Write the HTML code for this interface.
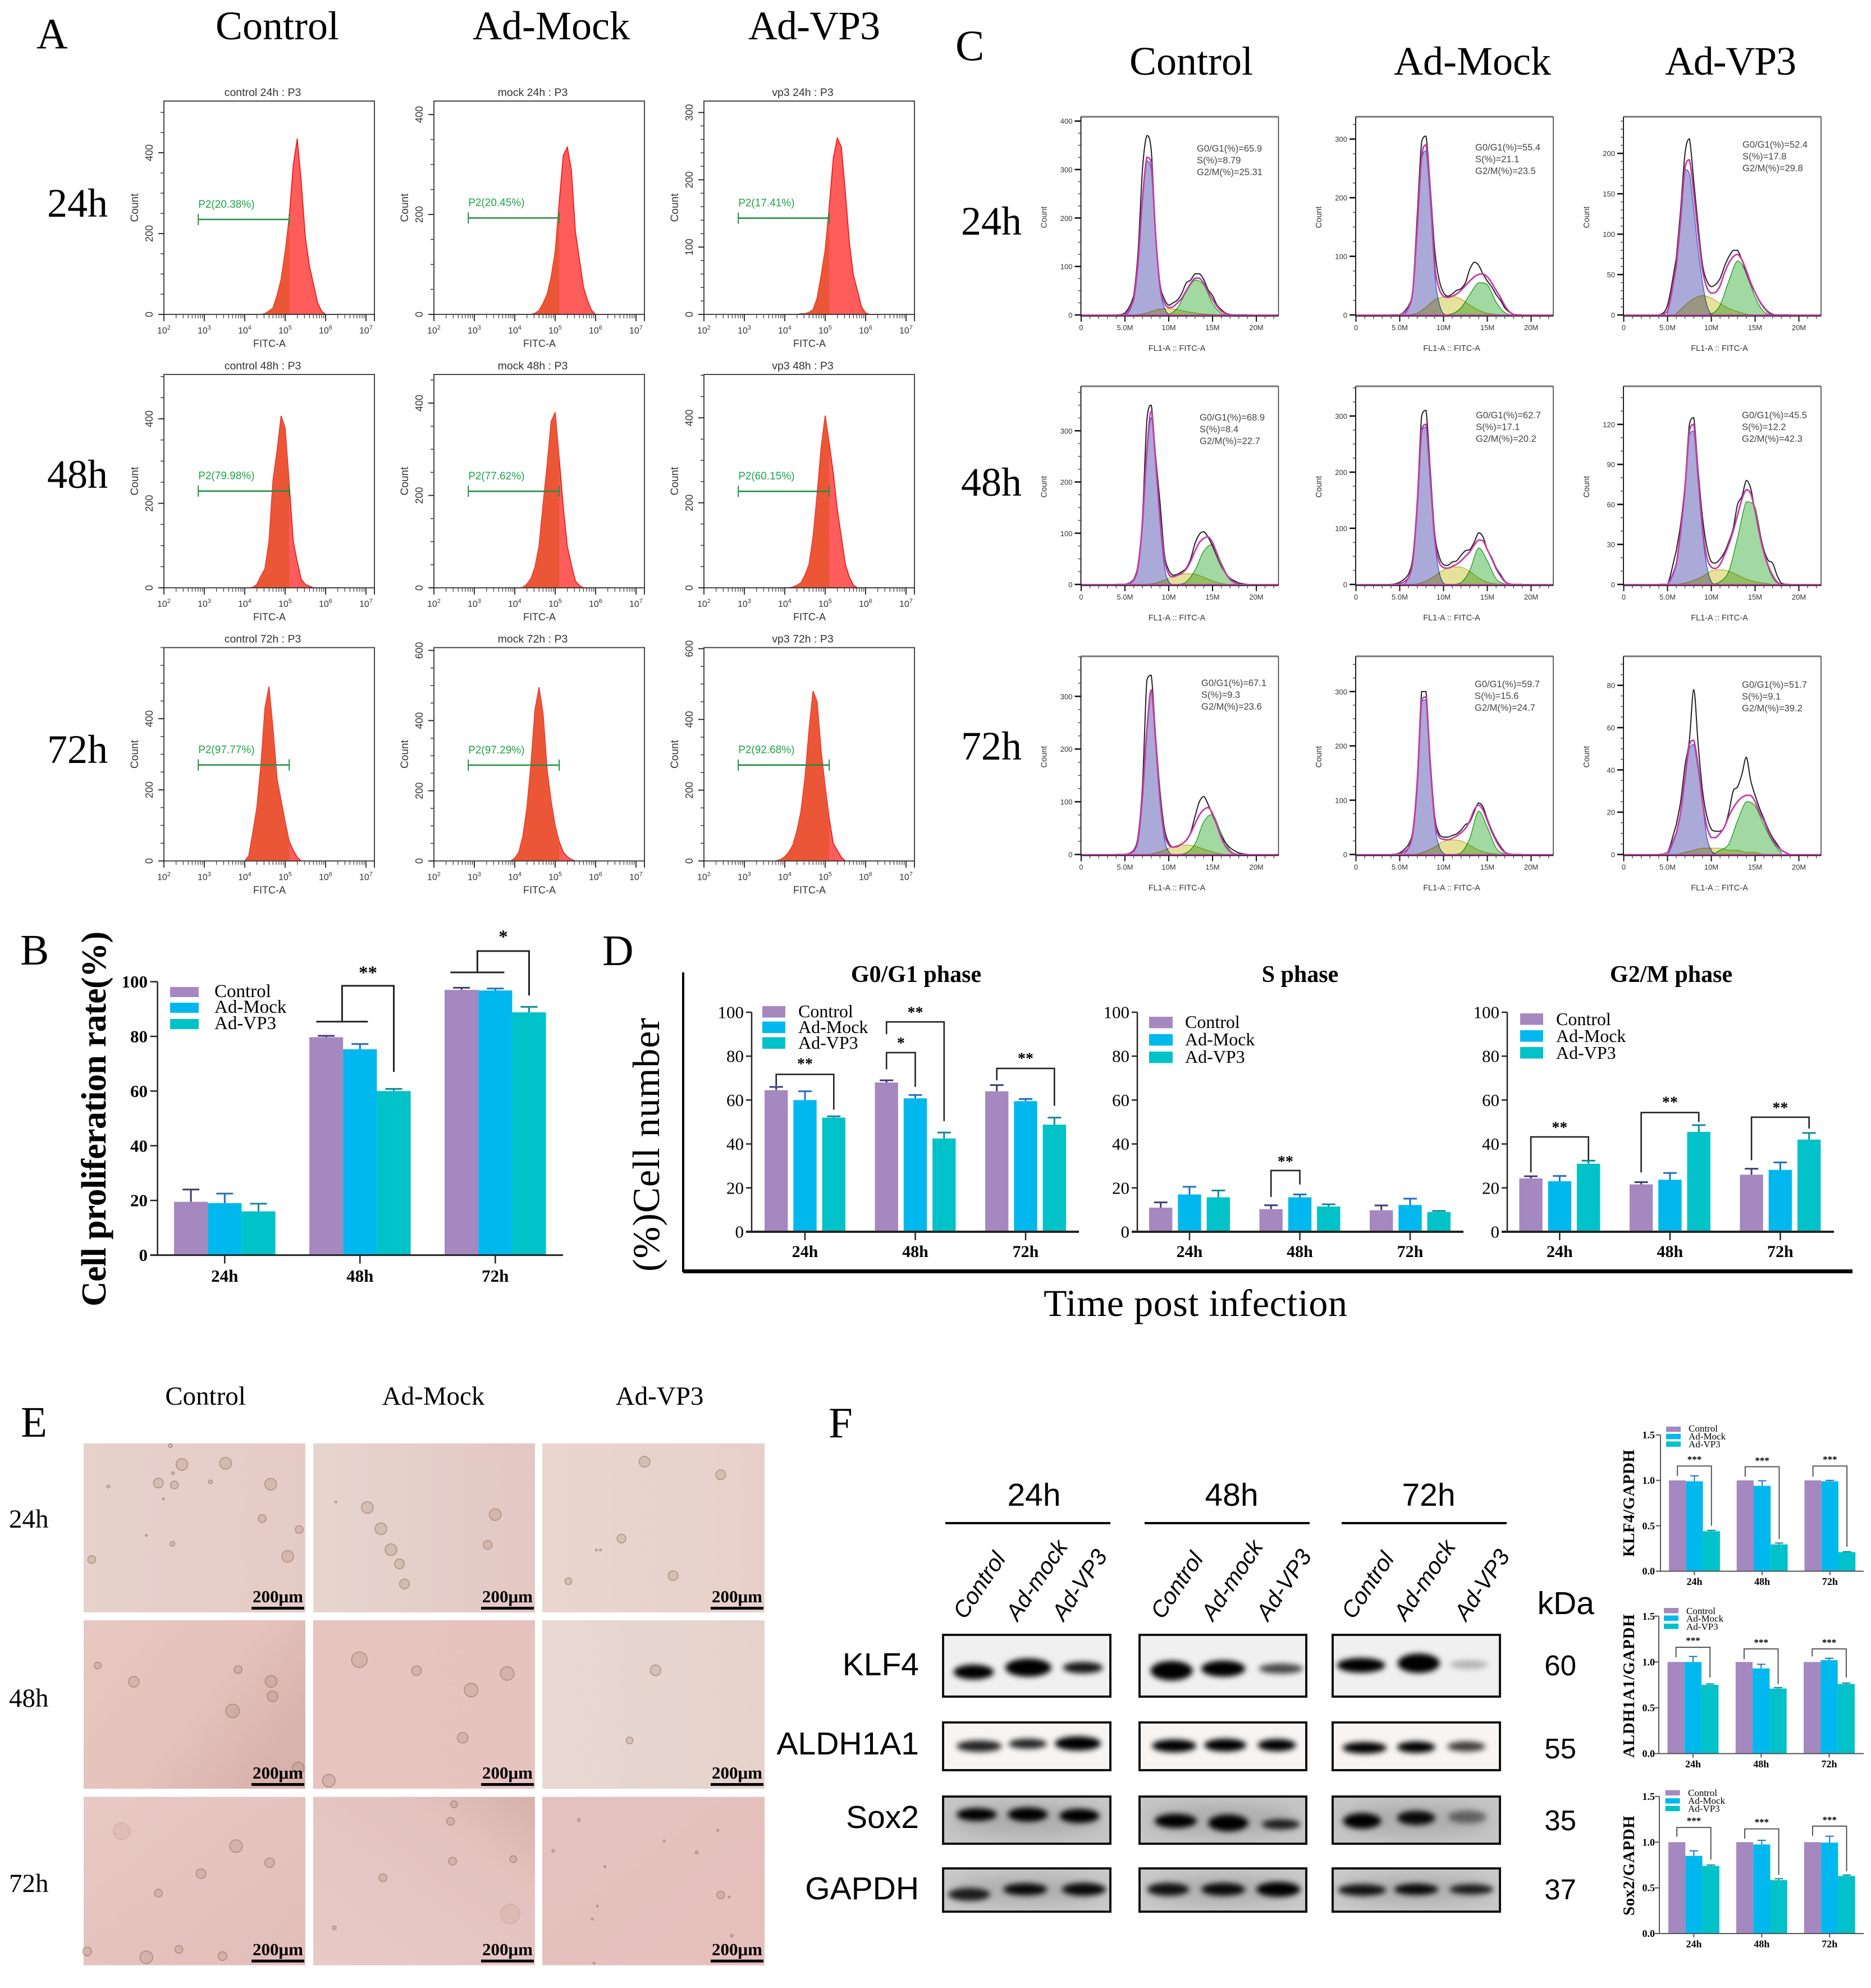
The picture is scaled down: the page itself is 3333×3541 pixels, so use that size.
<!DOCTYPE html>
<html lang="en">
<head>
<meta charset="utf-8">
<title>Multi-panel flow cytometry, proliferation and western blot figure</title>
<style>
html,body{margin:0;padding:0;background:#fff;}
svg{display:block;position:absolute;left:0;top:0;}
.serif{font-family:"Liberation Serif",serif;}
.sans{font-family:"Liberation Sans",sans-serif;}
</style>
</head>
<body>
<svg id="fig" xmlns="http://www.w3.org/2000/svg" width="3333" height="3541" viewBox="0 0 3333 3541">
<defs>
<filter id="blurBand" x="-40%" y="-80%" width="180%" height="260%"><feGaussianBlur stdDeviation="5"/></filter>
<filter id="blurPatch" x="-40%" y="-80%" width="180%" height="260%"><feGaussianBlur stdDeviation="14"/></filter>
<linearGradient id="m11" x1="0" y1="0" x2="1" y2="0"><stop offset="0" stop-color="#e6d1cb"/><stop offset="1" stop-color="#e5cbc6"/></linearGradient>
<linearGradient id="m12" x1="0" y1="0" x2="1" y2="0"><stop offset="0" stop-color="#e6d5ce"/><stop offset="1" stop-color="#e3c7c3"/></linearGradient>
<linearGradient id="m13" x1="0" y1="0" x2="1" y2="0"><stop offset="0" stop-color="#e9d6cf"/><stop offset="1" stop-color="#e8d0ca"/></linearGradient>
<linearGradient id="m21" x1="0" y1="0" x2="1" y2="0.6"><stop offset="0" stop-color="#e8c8c2"/><stop offset="0.6" stop-color="#e5c2bc"/><stop offset="1" stop-color="#d8b2ac"/></linearGradient>
<linearGradient id="m22" x1="0" y1="0" x2="1" y2="0"><stop offset="0" stop-color="#e6c4c0"/><stop offset="1" stop-color="#e7c3bf"/></linearGradient>
<linearGradient id="m23" x1="0" y1="0" x2="1" y2="0"><stop offset="0" stop-color="#e7d9d2"/><stop offset="1" stop-color="#e5d2cb"/></linearGradient>
<linearGradient id="m31" x1="0" y1="0" x2="1" y2="1"><stop offset="0" stop-color="#e8c9c4"/><stop offset="1" stop-color="#e2bdb9"/></linearGradient>
<linearGradient id="m32" x1="0" y1="1" x2="1" y2="0"><stop offset="0" stop-color="#e7cac6"/><stop offset="0.7" stop-color="#e4c3bf"/><stop offset="1" stop-color="#d6b1ac"/></linearGradient>
<linearGradient id="m33" x1="0" y1="0" x2="1" y2="1"><stop offset="0" stop-color="#e5c3c0"/><stop offset="1" stop-color="#e5bfbc"/></linearGradient>
</defs>

<!-- Panel letters -->
<g class="serif" fill="#000" font-size="77">
<text x="65" y="86">A</text>
<text x="36" y="1718">B</text>
<text x="1702" y="107">C</text>
<text x="1073" y="1719">D</text>
<text x="37" y="2559">E</text>
<text x="1476" y="2560">F</text>
</g>

<!-- Panel A headers -->
<g class="serif" fill="#000" font-size="72">
<text x="384" y="70">Control</text>
<text x="842" y="70">Ad-Mock</text>
<text x="1333" y="70" textLength="235">Ad-VP3</text>
<text x="84" y="386">24h</text>
<text x="84" y="869">48h</text>
<text x="84" y="1359">72h</text>
</g>

<!-- Panel C headers -->
<g class="serif" fill="#000" font-size="72">
<text x="2012" y="133">Control</text>
<text x="2483" y="133">Ad-Mock</text>
<text x="2966" y="133" textLength="234">Ad-VP3</text>
<text x="1712" y="418">24h</text>
<text x="1712" y="883">48h</text>
<text x="1712" y="1353">72h</text>
</g>

<!-- Panel B / D titles -->
<text class="serif" font-weight="bold" font-size="62" textLength="668" transform="translate(188,2327) rotate(-90)">Cell proliferation rate(%)</text>
<text class="serif" font-weight="bold" font-size="42" x="1632" y="1749" text-anchor="middle">G0/G1 phase</text>
<text class="serif" font-weight="bold" font-size="42" x="2316" y="1749" text-anchor="middle">S phase</text>
<text class="serif" font-weight="bold" font-size="42" x="2977" y="1749" text-anchor="middle">G2/M phase</text>
<text class="serif" font-size="68" textLength="452" transform="translate(1174,2265) rotate(-90)">(%)Cell number</text>
<text class="serif" font-size="68" x="1859" y="2344" textLength="541">Time post infection</text>
<rect x="1215" y="1732" width="4" height="534" fill="#000"/>
<rect x="1217" y="2261" width="2083" height="7" fill="#000"/>

<!-- Panel E labels -->
<g class="serif" fill="#000" font-size="47">
<text x="366" y="2502" text-anchor="middle">Control</text>
<text x="772" y="2502" text-anchor="middle">Ad-Mock</text>
<text x="1175" y="2502" text-anchor="middle">Ad-VP3</text>
<text x="16" y="2721">24h</text>
<text x="16" y="3040">48h</text>
<text x="16" y="3370">72h</text>
</g>

<!-- Panel F labels -->
<g class="sans" fill="#000">
<text x="1842" y="2682" font-size="57" text-anchor="middle">24h</text>
<text x="2194" y="2682" font-size="57" text-anchor="middle">48h</text>
<text x="2545" y="2682" font-size="57" text-anchor="middle">72h</text>
<rect x="1684" y="2711" width="294" height="4"/>
<rect x="2039" y="2711" width="294" height="4"/>
<rect x="2390" y="2711" width="294" height="4"/>
<g font-size="41" font-style="italic">
<text transform="translate(1719,2886) rotate(-56)">Control</text>
<text transform="translate(1813,2889) rotate(-56)">Ad-mock</text>
<text transform="translate(1895,2889) rotate(-56)">Ad-VP3</text>
<text transform="translate(2071,2886) rotate(-56)">Control</text>
<text transform="translate(2161,2889) rotate(-56)">Ad-mock</text>
<text transform="translate(2259,2889) rotate(-56)">Ad-VP3</text>
<text transform="translate(2411,2886) rotate(-56)">Control</text>
<text transform="translate(2504,2889) rotate(-56)">Ad-mock</text>
<text transform="translate(2612,2889) rotate(-56)">Ad-VP3</text>
</g>
<g font-size="57" text-anchor="end">
<text x="1637" y="2984">KLF4</text>
<text x="1637" y="3125">ALDH1A1</text>
<text x="1637" y="3256">Sox2</text>
<text x="1637" y="3383">GAPDH</text>
<text x="2840" y="2875">kDa</text>
</g>
<g font-size="51" text-anchor="end">
<text x="2808" y="2984">60</text>
<text x="2808" y="3132">55</text>
<text x="2808" y="3260">35</text>
<text x="2808" y="3383">37</text>
</g>
</g>
<g class="serif" font-weight="bold" fill="#000" font-size="29">
<text textLength="191" transform="translate(2911,2773) rotate(-90)">KLF4/GAPDH</text>
<text textLength="256" transform="translate(2911,3131) rotate(-90)">ALDH1A1/GAPDH</text>
<text textLength="178" transform="translate(2911,3412) rotate(-90)">Sox2/GAPDH</text>
</g>
<g id="root"></g>
</svg>

<script>
/* ---------- shared categories ---------- */
const seriesNames = ['Control', 'Ad-Mock', 'Ad-VP3'];
const timeLabels = ['24h', '48h', '72h'];

/* ---------- Panel A: FITC histograms ---------- */
const logBins = [3.8,3.9,4.0,4.1,4.2,4.3,4.4,4.5,4.6,4.7,4.8,4.9,5.0,5.1,5.2,5.3,5.4,5.5,5.6,5.7,5.8,5.9,6.0,6.1,6.2,6.3,6.4];
const hC24 = [0,0,0,0,0,0,0,2,8,16,47,87,155,240,370,435,325,190,120,75,30,8,0,0,0,0,0];
const hM24 = [0,0,0,0,0,0,0,2,8,22,40,75,125,225,318,335,290,166,110,55,28,8,0,0,0,0,0];
const hV24 = [0,0,0,0,0,0,1,1,3,7,24,58,96,160,232,262,249,181,106,58,35,11,2,0,0,0,0];
const hC48 = [0,0,0,0,1,8,28,45,110,256,325,407,378,248,110,61,20,8,4,0,0,0,0,0,0,0,0];
const hM48 = [0,0,0,0,1,8,20,45,90,180,265,360,380,280,175,90,50,15,5,0,0,0,0,0,0,0,0];
const hV48 = [0,0,0,0,2,6,12,30,55,120,220,330,405,340,270,185,120,55,25,6,0,0,0,0,0,0,0];
const hC72 = [0,0,0,15,80,150,270,430,490,370,230,170,110,55,30,10,0,0,0,0,0,0,0,0,0,0,0];
const hM72 = [0,0,8,25,70,150,275,430,495,420,260,170,100,55,25,12,4,0,0,0,0,0,0,0,0,0,0];
const hV72 = [1,4,12,25,45,85,140,235,370,480,450,310,210,120,50,30,10,0,0,0,0,0,0,0,0,0,0];
const histSets = [hC24,hM24,hV24,hC48,hM48,hV48,hC72,hM72,hV72];
const histTitles = ['control 24h : P3','mock 24h : P3','vp3 24h : P3','control 48h : P3','mock 48h : P3','vp3 48h : P3','control 72h : P3','mock 72h : P3','vp3 72h : P3'];
const gateLabels = ['P2(20.38%)','P2(20.45%)','P2(17.41%)','P2(79.98%)','P2(77.62%)','P2(60.15%)','P2(97.77%)','P2(97.29%)','P2(92.68%)'];
const gateCounts = [235,193,143,229,209,227,270,273,271];
const histYMax = [528,427,317,505,462,502,600,608,603];
const histYLabels = [[0,200,400],[0,200,400],[0,100,200,300],[0,200,400],[0,200,400],[0,200,400],[0,200,400],[0,200,400,600],[0,200,400,600]];
const histYMinor = [50,50,20,50,50,50,50,50,50];
const decades = [2,3,4,5,6,7];
const gateFrom = 2.85;
const gateTo = 5.1;

/* ---------- Panel C: cell-cycle fits ---------- */
const rawGrid = [4,5,6,6.5,7,7.5,8,8.5,9,9.5,10,10.5,11,11.5,12,12.5,13,13.5,14,14.5,15,15.5,16,16.5,17,17.5,18,19];
const g1Grid = [5,5.5,6,6.5,7,7.5,8,8.5,9,9.5,10,10.5];
const sGrid = [6,7,8,9,10,11,12,13,14,15,16,17];
const g2Grid = [9,10,11,12,13,14,15,16,17,18];

const rawC24 = [0,4,40,130,300,370,340,170,65,33,20,25,31,45,66,72,85,85,73,52,40,21,11,4,1,0,0,0];
const fitC24 = [0,1,32,110,240,325,315,165,58,25,15,17,25,35,50,65,76,76,65,48,32,18,8,3,0,0,0,0];
const g1C24 = [0,8,35,105,235,318,300,160,55,15,1,0];
const sC24 = [0,2,7,12,13,11,7,4,2,1,0,0];
const g2C24 = [0,1,15,48,72,62,24,3,0,0];

const rawM24 = [0,0,15,45,170,295,305,215,110,60,38,32,36,42,45,55,78,90,85,70,58,48,35,25,12,5,1,0];
const fitM24 = [0,0,12,42,150,270,290,205,85,45,32,30,32,36,42,50,58,65,69,70,65,55,42,30,16,6,1,0];
const g1M24 = [0,1,12,40,150,265,280,190,70,20,2,0];
const sM24 = [0,3,13,26,31,32,27,17,8,3,1,0];
const g2M24 = [0,0,2,12,35,55,52,22,4,0];

const rawV24 = [0,12,70,130,200,218,165,110,62,42,35,38,45,60,72,80,80,68,52,38,28,18,10,4,1,0,0,0];
const fitV24 = [0,5,60,118,182,192,150,100,55,34,27,28,36,52,64,72,75,68,55,40,28,17,9,3,0,0,0,0];
const g1V24 = [5,30,60,115,180,175,130,80,40,12,1,0];
const sV24 = [2,12,20,24,21,14,8,4,1,0,0,0];
const g2V24 = [0,1,12,42,67,52,22,4,0,0];

const rawC48 = [0,0,10,40,130,320,350,250,160,60,28,18,20,25,32,50,80,98,103,92,75,55,35,22,12,7,3,0];
const fitC48 = [0,0,8,35,120,260,338,240,130,50,20,15,18,22,30,45,65,82,90,93,82,60,38,22,10,4,0,0];
const g1C48 = [0,1,8,33,115,250,326,235,120,35,5,0];
const sC48 = [0,0,1,5,12,18,21,20,14,7,2,0];
const g2C48 = [0,0,0,5,28,65,78,42,10,1];

const rawM48 = [0,4,18,50,150,300,310,200,90,50,35,34,40,42,52,60,62,75,92,85,62,48,30,18,6,1,0,0];
const fitM48 = [0,1,12,42,140,275,285,185,80,40,30,29,32,36,42,50,58,70,79,78,62,46,28,15,5,1,0,0];
const g1M48 = [0,1,12,42,140,272,280,180,75,22,2,0];
const sM48 = [0,1,6,15,26,31,31,23,12,4,1,0];
const g2M48 = [0,0,0,3,25,65,42,10,1,0];

const rawV48 = [0,0,25,45,75,120,125,85,50,28,17,16,19,24,32,42,60,66,78,72,55,40,26,18,16,7,1,0];
const fitV48 = [0,0,15,40,72,115,120,80,42,20,13,12,15,22,30,40,52,64,71,68,55,38,24,14,7,2,0,0];
const g1V48 = [0,5,15,40,72,112,115,76,38,13,2,0];
const sV48 = [0,1,3,6,10,11,10,7,4,2,1,0];
const g2V48 = [0,0,2,10,35,62,58,24,5,0];

const rawC72 = [0,0,8,35,130,330,340,225,120,50,22,14,15,20,28,42,72,100,110,95,75,55,35,22,13,7,3,0];
const fitC72 = [0,0,6,28,110,235,312,215,105,40,18,14,16,20,27,40,58,75,85,89,78,55,32,15,6,1,0,0];
const g1C72 = [0,1,6,27,105,230,308,210,100,30,5,0];
const sC72 = [0,0,1,5,12,17,18,16,10,5,1,0];
const g2C72 = [0,0,0,3,20,62,76,40,8,0];

const rawM72 = [0,3,18,45,140,300,300,170,70,38,32,32,35,38,45,55,60,78,95,88,65,45,28,15,5,1,0,0];
const fitM72 = [0,1,12,40,130,285,290,160,62,32,28,27,30,34,40,48,62,82,91,82,62,42,25,12,4,1,0,0];
const g1M72 = [0,1,12,38,128,282,285,155,55,15,2,0];
const sM72 = [0,1,6,14,24,27,25,17,8,3,1,0];
const g2M72 = [0,0,0,3,30,80,50,12,1,0];

const rawV72 = [0,1,14,25,42,54,78,52,30,18,12,11,11,13,20,30,32,38,46,35,28,22,17,12,8,5,2,0];
const fitV72 = [0,1,10,20,36,52,54,42,25,13,8,8,10,13,18,22,25,27,28,28,25,20,16,11,7,4,2,0];
const g1V72 = [0,4,10,20,36,50,52,40,24,8,2,0];
const sV72 = [0,1,2,3,3,3,2,2,1,1,0,0];
const g2V72 = [0,0,2,5,16,25,23,14,6,1];

const cycleRaw = [rawC24,rawM24,rawV24,rawC48,rawM48,rawV48,rawC72,rawM72,rawV72];
const cycleFit = [fitC24,fitM24,fitV24,fitC48,fitM48,fitV48,fitC72,fitM72,fitV72];
const cycleG1 = [g1C24,g1M24,g1V24,g1C48,g1M48,g1V48,g1C72,g1M72,g1V72];
const cycleS = [sC24,sM24,sV24,sC48,sM48,sV48,sC72,sM72,sV72];
const cycleG2 = [g2C24,g2M24,g2V24,g2C48,g2M48,g2V48,g2C72,g2M72,g2V72];
const cycleYMax = [410,339,246,388,354,149,377,366,94];
const cycleYLabels = [[0,100,200,300,400],[0,100,200,300],[0,50,100,150,200],[0,100,200,300],[0,100,200,300],[0,30,60,90,120],[0,100,200,300],[0,100,200,300],[0,20,40,60,80]];
const cycleYMinor = [25,25,10,25,25,10,25,25,5];
const cycleXLabels = ['0','5.0M','10M','15M','20M'];
const cycleXValues = [0,5,10,15,20];
const cycleStats = [
  ['G0/G1(%)=65.9','S(%)=8.79','G2/M(%)=25.31'],['G0/G1(%)=55.4','S(%)=21.1','G2/M(%)=23.5'],['G0/G1(%)=52.4','S(%)=17.8','G2/M(%)=29.8'],
  ['G0/G1(%)=68.9','S(%)=8.4','G2/M(%)=22.7'],['G0/G1(%)=62.7','S(%)=17.1','G2/M(%)=20.2'],['G0/G1(%)=45.5','S(%)=12.2','G2/M(%)=42.3'],
  ['G0/G1(%)=67.1','S(%)=9.3','G2/M(%)=23.6'],['G0/G1(%)=59.7','S(%)=15.6','G2/M(%)=24.7'],['G0/G1(%)=51.7','S(%)=9.1','G2/M(%)=39.2']];

/* ---------- Panel B values ---------- */
const bControl = [19.5,79.7,97];
const bMock = [19,75.3,96.8];
const bVP3 = [16,60,88.8];
const bControlTop = [24,80.2,97.8];
const bMockTop = [22.5,77.2,97.5];
const bVP3Top = [18.8,60.8,90.8];
const pctTicks = [0,20,40,60,80,100];

/* ---------- Panel D values ---------- */
const g0Control = [64.5,68,64];
const g0Mock = [60,60.8,59.5];
const g0VP3 = [52,42.5,48.8];
const g0ControlTop = [66,69,66.8];
const g0MockTop = [64,62.3,60.5];
const g0VP3Top = [52.6,45.2,52];
const sControl = [11,10.3,9.8];
const sMock = [17,15.7,12.2];
const sVP3 = [15.7,11.5,9];
const sControlTop = [13.4,12.1,12];
const sMockTop = [20.5,17,15.1];
const sVP3Top = [18.8,12.5,9.5];
const g2Control = [24.3,21.6,26];
const g2Mock = [23,23.7,28.2];
const g2VP3 = [31,45.5,42];
const g2ControlTop = [25.3,22.6,28.7];
const g2MockTop = [25.4,26.8,31.6];
const g2VP3Top = [32.4,48.6,45];

/* ---------- Panel F values ---------- */
const klfControl = [1,1,1];
const klfMock = [0.99,0.94,0.99];
const klfVP3 = [0.44,0.295,0.21];
const klfControlTop = [1,1,1];
const klfMockTop = [1.05,0.995,1.0];
const klfVP3Top = [0.45,0.31,0.215];
const aldhControl = [1,1,1];
const aldhMock = [1,0.93,1.02];
const aldhVP3 = [0.75,0.71,0.76];
const aldhControlTop = [1,1,1];
const aldhMockTop = [1.06,0.975,1.04];
const aldhVP3Top = [0.76,0.72,0.77];
const soxControl = [1,1,1];
const soxMock = [0.85,0.975,0.995];
const soxVP3 = [0.74,0.585,0.63];
const soxControlTop = [1,1,1];
const soxMockTop = [0.905,1.02,1.065];
const soxVP3Top = [0.75,0.6,0.64];
const ratioTicks = [0,0.5,1,1.5];
const ratioLabels = ['0.0','0.5','1.0','1.5'];

/* ---------- helpers ---------- */
const NS = 'http://www.w3.org/2000/svg';
const root = document.getElementById('root');
const barFill = ['#a688c0','#00b8ee','#00c2c8'];
const errFill = ['#3c3c6e','#1f6fc0','#0e8a94'];

function mk(tag, attrs, parent) {
  const el = document.createElementNS(NS, tag);
  for (const k in attrs) el.setAttribute(k, attrs[k]);
  (parent || root).appendChild(el);
  return el;
}
function grp(parent, name) {
  const g = mk('g', {}, parent);
  
  
  return g;
}
function label(parent, name, s, x, y, size, extra) {
  const el = mk('text', Object.assign({x: x, y: y, 'font-size': size, 'font-family': '"Liberation Sans",sans-serif', fill: '#222'}, extra || {}), parent);
  el.textContent = s;
  
  
  return el;
}
function line(parent, x1, y1, x2, y2, stroke, w) {
  return mk('line', {x1: x1, y1: y1, x2: x2, y2: y2, stroke: stroke, 'stroke-width': w}, parent);
}
function smooth(pts) {
  let d = 'M' + pts[0][0].toFixed(1) + ' ' + pts[0][1].toFixed(1);
  for (let i = 0; i < pts.length - 1; i++) {
    const p0 = pts[Math.max(i - 1, 0)], p1 = pts[i], p2 = pts[i + 1], p3 = pts[Math.min(i + 2, pts.length - 1)];
    const lo = Math.min(p1[1], p2[1]), hi = Math.max(p1[1], p2[1]);
    const c1y = Math.min(hi, Math.max(lo, p1[1] + (p2[1] - p0[1]) / 6));
    const c2y = Math.min(hi, Math.max(lo, p2[1] - (p3[1] - p1[1]) / 6));
    const c1x = p1[0] + (p2[0] - p1[0]) / 3, c2x = p2[0] - (p2[0] - p1[0]) / 3;
    d += 'C' + c1x.toFixed(1) + ' ' + c1y.toFixed(1) + ' ' + c2x.toFixed(1) + ' ' + c2y.toFixed(1) + ' ' + p2[0].toFixed(1) + ' ' + p2[1].toFixed(1);
  }
  return d;
}

/* ---------- Panel A ---------- */
const aCols = [292, 773, 1254];
const aWidth = 375;
const aBase = [560, 1047, 1533.5];
const aHeight = 380;
for (let i = 0; i < 9; i++) {
  const L = aCols[i % 3], B = aBase[Math.floor(i / 3)], T = B - aHeight;
  const X = v => L + (v - 2) * 72;
  const Y = c => B - c * aHeight / histYMax[i];
  const g = grp(root, 'histogram-' + histTitles[i].replace(/[ :]+/g, '-').toLowerCase());
  const pts = logBins.map((b, k) => X(b).toFixed(1) + ',' + Y(histSets[i][k]).toFixed(1));
  const poly = X(logBins[0]) + ',' + B + ' ' + pts.join(' ') + ' ' + X(logBins[logBins.length - 1]) + ',' + B;
  const fill = mk('polygon', {points: poly, fill: '#ff5c5c', stroke: '#f01010', 'stroke-width': 1.6}, g);
  
  
  const clipId = 'gateClip' + i;
  const cp = mk('clipPath', {id: clipId}, g);
  mk('rect', {x: X(gateFrom), y: T, width: X(gateTo) - X(gateFrom), height: aHeight}, cp);
  const gated = mk('polygon', {points: poly, fill: '#ea5636', 'clip-path': 'url(#' + clipId + ')'}, g);
  
  
  const box = mk('rect', {x: L, y: T, width: aWidth, height: aHeight, fill: 'none', stroke: '#333', 'stroke-width': 1.8}, g);
  
  
  const yAxis = grp(g, 'y-axis');
  for (let c = 0; c <= histYMax[i]; c += histYMinor[i]) line(yAxis, L - 6, Y(c), L, Y(c), '#444', 1.6);
  histYLabels[i].forEach(v => {
    line(yAxis, L - 10, Y(v), L, Y(v), '#222', 1.8);
    const yy = Y(v);
    label(yAxis, 'y-tick-label', String(v), 0, 0, 18, {transform: 'translate(' + (L - 20) + ',' + yy + ') rotate(-90)', 'text-anchor': 'middle', fill: '#333'});
  });
  const xAxis = grp(g, 'x-axis');
  decades.forEach(d => {
    line(xAxis, X(d), B, X(d), B + 12, '#222', 1.8);
    const lab = label(xAxis, 'x-tick-label', '10', X(d) - 12, B + 34, 16, {fill: '#333'});
    const sup = mk('tspan', {'font-size': 11, dy: -7}, lab);
    sup.textContent = String(d);
    if (d < 7) [2,3,4,5,6,7,8,9].forEach(m => { const xx = X(d + Math.log10(m)); line(xAxis, xx, B, xx, B + 7, '#444', 1.3); });
  });
  line(xAxis, L + aWidth, B, L + aWidth, B + 12, '#222', 1.8);
  label(g, 'x-axis-title', 'FITC-A', L + 188, B + 58, 18, {'text-anchor': 'middle', fill: '#333'});
  label(g, 'y-axis-title', 'Count', 0, 0, 19, {transform: 'translate(' + (L - 46) + ',' + (B - 190) + ') rotate(-90)', 'text-anchor': 'middle', fill: '#333'});
  label(g, 'plot-title', histTitles[i], L + 176, T - 9, 19.5, {'text-anchor': 'middle', fill: '#333'});
  const gy = Y(gateCounts[i]);
  const gate = grp(g, 'p2-gate');
  line(gate, X(gateFrom), gy, X(gateTo), gy, '#1e9040', 2.6);
  line(gate, X(gateFrom), gy - 10, X(gateFrom), gy + 10, '#1e9040', 2);
  line(gate, X(gateTo), gy - 10, X(gateTo), gy + 10, '#1e9040', 2);
  label(g, 'gate-label', gateLabels[i], X(gateFrom), gy - 21, 19, {fill: '#1fa24a'});
}

/* ---------- Panel C ---------- */
const cCols = [1925.5, 2415, 2892];
const cWidth = 352;
const cBase = [561, 1041, 1522];
const cHeight = 354;
const statPos = [[2132,270],[2628,268],[3104,263],[2137,749],[2629,745],[3103,745],[2140,1222],[2627,1224],[3103,1225]];
for (let i = 0; i < 9; i++) {
  const L = cCols[i % 3], B = cBase[Math.floor(i / 3)], T = B - cHeight + 1;
  const X = m => L + 0.5 + m * 15.6;
  const Y = c => B - c * cHeight / cycleYMax[i];
  const g = grp(root, 'cell-cycle-plot-' + i);
  const area = (grid, vals) => {
    const pts = grid.map((m, k) => [X(m), Y(vals[k])]);
    return smooth(pts) + 'L' + X(grid[grid.length - 1]) + ' ' + B + 'L' + X(grid[0]) + ' ' + B + 'Z';
  };
  const g1 = mk('path', {d: area(g1Grid, cycleG1[i]), fill: '#aaaad8', stroke: '#3a5fc0', 'stroke-width': 1.4}, g);
  
  
  const sArea = mk('path', {d: area(sGrid, cycleS[i]), fill: '#e6e29c', stroke: '#b7b73a', 'stroke-width': 1.4, style: 'mix-blend-mode:multiply'}, g);
  
  
  const g2 = mk('path', {d: area(g2Grid, cycleG2[i]), fill: '#a2d8a2', stroke: '#20a020', 'stroke-width': 1.4, style: 'mix-blend-mode:multiply'}, g);
  
  
  const raw = mk('path', {d: smooth(rawGrid.map((m, k) => [X(m), Y(cycleRaw[i][k])])), fill: 'none', stroke: '#222', 'stroke-width': 2}, g);
  
  
  const fit = mk('path', {d: smooth(rawGrid.map((m, k) => [X(m), Y(cycleFit[i][k])])), fill: 'none', stroke: '#c83ca8', 'stroke-width': 2.8}, g);
  
  
  line(g, X(0), B, L + cWidth, B, '#c83ca8', 2);
  line(g, L, T, L + cWidth, T, '#777', 3);
  line(g, L + cWidth, T, L + cWidth, B + 2, '#333', 1.5);
  line(g, L, T, L, B + 2, '#222', 2);
  line(g, L, B + 2, L + cWidth, B + 2, '#222', 1.8);
  const yAxis = grp(g, 'y-axis');
  for (let c = 0; c <= cycleYMax[i]; c += cycleYMinor[i]) line(yAxis, L - 5, Y(c), L, Y(c), '#444', 1.4);
  cycleYLabels[i].forEach(v => {
    line(yAxis, L - 11, Y(v), L, Y(v), '#111', 2.6);
    label(yAxis, 'y-tick-label', String(v), L - 15, Y(v) + 5, 13, {'text-anchor': 'end', fill: '#333'});
  });
  const xAxis = grp(g, 'x-axis');
  for (let m = 0; m <= 22; m++) line(xAxis, X(m), B + 2, X(m), B + 7, '#444', 1.3);
  cycleXValues.forEach((v, k) => {
    line(xAxis, X(v), B + 2, X(v), B + 12, '#111', 2);
    label(xAxis, 'x-tick-label', cycleXLabels[k], X(v), B + 27, 13, {'text-anchor': 'middle', fill: '#333'});
  });
  label(g, 'x-axis-title', 'FL1-A :: FITC-A', L + 171, B + 64, 14.5, {'text-anchor': 'middle', fill: '#333'});
  label(g, 'y-axis-title', 'Count', 0, 0, 14.5, {transform: 'translate(' + (L - 61) + ',' + (B - 174) + ') rotate(-90)', 'text-anchor': 'middle', fill: '#333'});
  cycleStats[i].forEach((s, k) => label(g, 'phase-percent-label', s, statPos[i][0], statPos[i][1] + k * 21, 16.5, {fill: '#444'}));
}

/* ---------- bar charts (B, D, F) ---------- */
function barChart(c) {
  const g = grp(root, c.name);
  const Y = v => c.base - v * c.unit;
  const X = (gi, b) => c.x0 + gi * c.gStep + b * c.barStep + c.barW / 2;
  const values = [c.v0, c.v1, c.v2];
  const tops = [c.t0, c.t1, c.t2];
  timeLabels.forEach((t, gi) => {
    values.forEach((vals, b) => {
      const bar = mk('rect', {x: X(gi, b) - c.barW / 2, y: Y(vals[gi]), width: c.barW, height: c.base - Y(vals[gi]), fill: barFill[b]}, g);
      
      
    });
  });
  timeLabels.forEach((t, gi) => {
    tops.forEach((vals, b) => {
      if (vals[gi] <= values[b][gi]) return;
      const e = grp(g, 'error-bar');
      line(e, X(gi, b), Y(values[b][gi]), X(gi, b), Y(vals[gi]), errFill[b], c.errW);
      line(e, X(gi, b) - c.cap, Y(vals[gi]), X(gi, b) + c.cap, Y(vals[gi]), errFill[b], c.errW);
    });
  });
  const yAxis = grp(g, 'y-axis');
  const tv = c.ticks;
  line(yAxis, c.ax, Y(tv[0]) + c.axW / 2, c.ax, Y(tv[tv.length - 1]), c.axC, c.axW);
  tv.forEach((v, k) => {
    line(yAxis, c.ax - c.tickLen, Y(v), c.ax, Y(v), c.axC, c.axW);
    const el = label(yAxis, 'y-tick-label', c.tickText ? c.tickText[k] : String(v), c.tickRight, Y(v) + c.yFont * 0.34, c.yFont, {'text-anchor': 'end', 'font-family': '"Liberation Serif",serif', fill: '#000'});
    if (c.yBold) el.setAttribute('font-weight', 'bold');
  });
  const xAxis = grp(g, 'x-axis');
  line(xAxis, c.ax - c.tickLen, c.base, c.xEnd, c.base, c.axC, c.xW);
  timeLabels.forEach((t, gi) => {
    const cx = X(gi, 1);
    line(xAxis, cx, c.base, cx, c.base + c.tickDown, c.axC, c.axW);
    label(xAxis, 'x-tick-label', t, cx, c.xBase, c.xFont, {'text-anchor': 'middle', 'font-family': '"Liberation Serif",serif', 'font-weight': 'bold', fill: '#000'});
  });
  const leg = grp(g, 'legend');
  seriesNames.forEach((s, k) => {
    const sw = mk('rect', {x: c.leg.sx, y: c.leg.sy[k], width: c.leg.sw, height: c.leg.sh, fill: barFill[k]}, leg);
    
    
    label(leg, 'legend-entry', s, c.leg.tx, c.leg.tb[k], c.leg.font, {'font-family': '"Liberation Serif",serif', fill: '#000'});
  });
  (c.brackets || []).forEach(b => {
    const br = grp(g, 'significance-bracket');
    const xl = X(b.g, b.l), xr = X(b.g, b.r);
    mk('path', {d: 'M' + xl + ' ' + Y(b.dl) + 'V' + Y(b.top) + 'H' + xr + 'V' + Y(b.dr), fill: 'none', stroke: c.brC, 'stroke-width': c.brW}, br);
    if (b.hw) line(br, xl - b.hw, Y(b.dl), xl + b.hw, Y(b.dl), c.brC, c.brW);
    label(br, 'significance-stars', b.text, (xl + xr) / 2, Y(b.star) + c.starFont * 0.47, c.starFont, {'text-anchor': 'middle', 'font-family': '"Liberation Serif",serif', 'font-weight': 'bold', fill: '#000'});
  });
}
const dBase = {base: 2194, unit: 3.91, gStep: 196.5, barStep: 51.3, barW: 41.4, cap: 12, errW: 3, axC: '#222', axW: 2.5, xW: 4, tickLen: 10, tickDown: 15, yFont: 31, yBold: false, xBase: 2239, xFont: 30, ticks: pctTicks, brC: '#222', brW: 2.6, starFont: 28};
const fBase = {barStep: 30.3, barW: 30.3, cap: 7.5, errW: 2, axC: '#555', axW: 2, xW: 2, tickLen: 8, tickDown: 7, yFont: 18, yBold: true, xFont: 18, ticks: ratioTicks, tickText: ratioLabels, brC: '#444', brW: 1.8, starFont: 17, tickRight: 2948};

barChart({name: 'chart-cell-proliferation', base: 2235.6, unit: 4.87, x0: 310, gStep: 241, barStep: 60.2, barW: 60.2, cap: 15, errW: 3, ax: 280.6, xEnd: 1003, axC: '#222', axW: 2.5, xW: 3, tickLen: 13, tickDown: 15, tickRight: 263, yFont: 31, yBold: true, xBase: 2283, xFont: 31, ticks: pctTicks,
  v0: bControl, v1: bMock, v2: bVP3, t0: bControlTop, t1: bMockTop, t2: bVP3Top, brC: '#222', brW: 3, starFont: 33,
  leg: {sx: 303, sw: 51, sh: 18, sy: [1758, 1786, 1815], tx: 382, tb: [1776, 1804, 1833], font: 33},
  brackets: [{g: 1, l: 0.47, r: 2, top: 98.5, dl: 85.4, dr: 67, hw: 46, text: '**', star: 104.3},
             {g: 2, l: 0.47, r: 2, top: 111.2, dl: 103.4, dr: 95, hw: 48, text: '*', star: 117.5}]});

barChart(Object.assign({}, dBase, {name: 'chart-g0g1-phase', x0: 1362, ax: 1339, xEnd: 1922, tickRight: 1325,
  v0: g0Control, v1: g0Mock, v2: g0VP3, t0: g0ControlTop, t1: g0MockTop, t2: g0VP3Top,
  leg: {sx: 1358, sw: 41, sh: 20.5, sy: [1792, 1819.5, 1847.5], tx: 1422, tb: [1812, 1840, 1868], font: 32},
  brackets: [{g: 0, l: 0, r: 2, top: 71.7, dl: 66.5, dr: 55.6, text: '**', star: 77.5},
             {g: 1, l: 0, r: 1, top: 81.6, dl: 74, dr: 66, text: '*', star: 87},
             {g: 1, l: 0, r: 2, top: 95.6, dl: 90, dr: 50.4, text: '**', star: 101},
             {g: 2, l: 0, r: 2, top: 74.4, dl: 69, dr: 57.4, text: '**', star: 80}]}));

barChart(Object.assign({}, dBase, {name: 'chart-s-phase', x0: 2047, ax: 2026, xEnd: 2607, tickRight: 2012,
  v0: sControl, v1: sMock, v2: sVP3, t0: sControlTop, t1: sMockTop, t2: sVP3Top,
  leg: {sx: 2047, sw: 42, sh: 20.5, sy: [1811, 1842, 1873], tx: 2111, tb: [1831, 1862, 1893], font: 32},
  brackets: [{g: 1, l: 0, r: 1, top: 27.9, dl: 15.9, dr: 21.5, text: '**', star: 33}]}));

barChart(Object.assign({}, dBase, {name: 'chart-g2m-phase', x0: 2706.4, ax: 2685, xEnd: 3267, tickRight: 2671,
  v0: g2Control, v1: g2Mock, v2: g2VP3, t0: g2ControlTop, t1: g2MockTop, t2: g2VP3Top,
  leg: {sx: 2708, sw: 41, sh: 20.5, sy: [1805, 1835, 1865], tx: 2772, tb: [1826, 1856, 1886], font: 32},
  brackets: [{g: 0, l: 0, r: 2, top: 43.2, dl: 27, dr: 32.6, text: '**', star: 48.5},
             {g: 1, l: 0, r: 2, top: 54.3, dl: 27, dr: 50, text: '**', star: 60},
             {g: 2, l: 0, r: 2, top: 52.2, dl: 32.6, dr: 47, text: '**', star: 57.5}]}));

barChart(Object.assign({}, fBase, {name: 'chart-klf4', base: 2798.6, unit: 161.8, x0: 2973, gStep: 120.7, ax: 2958, xEnd: 3320, xBase: 2823,
  v0: klfControl, v1: klfMock, v2: klfVP3, t0: klfControlTop, t1: klfMockTop, t2: klfVP3Top,
  leg: {sx: 2968, sw: 26, sh: 9.5, sy: [2541, 2554, 2567.5], tx: 3008, tb: [2550, 2564, 2578], font: 17},
  brackets: [{g: 0, l: 0, r: 2, top: 1.158, dl: 1.05, dr: 0.5, text: '***', star: 1.245},
             {g: 1, l: 0, r: 2, top: 1.15, dl: 1.04, dr: 0.355, text: '***', star: 1.235},
             {g: 2, l: 0, r: 2, top: 1.158, dl: 1.04, dr: 0.27, text: '***', star: 1.245}]}));

barChart(Object.assign({}, fBase, {name: 'chart-aldh1a1', base: 3123.5, unit: 163.2, x0: 2970.5, gStep: 121.3, ax: 2955, xEnd: 3320, xBase: 3148,
  v0: aldhControl, v1: aldhMock, v2: aldhVP3, t0: aldhControlTop, t1: aldhMockTop, t2: aldhVP3Top,
  leg: {sx: 2964, sw: 26, sh: 9.5, sy: [2864, 2877.5, 2892], tx: 3004, tb: [2875, 2888.5, 2903], font: 17},
  brackets: [{g: 0, l: 0, r: 2, top: 1.16, dl: 1.05, dr: 0.83, text: '***', star: 1.25},
             {g: 1, l: 0, r: 2, top: 1.143, dl: 1.03, dr: 0.76, text: '***', star: 1.23},
             {g: 2, l: 0, r: 2, top: 1.143, dl: 1.06, dr: 0.83, text: '***', star: 1.23}]}));

barChart(Object.assign({}, fBase, {name: 'chart-sox2', base: 3444, unit: 162.8, x0: 2972, gStep: 120.9, ax: 2956, xEnd: 3320, xBase: 3468.5,
  v0: soxControl, v1: soxMock, v2: soxVP3, t0: soxControlTop, t1: soxMockTop, t2: soxVP3Top,
  leg: {sx: 2966.6, sw: 26, sh: 9.5, sy: [3188.6, 3203, 3216.6], tx: 3007, tb: [3199, 3213, 3227], font: 17},
  brackets: [{g: 0, l: 0, r: 2, top: 1.16, dl: 1.06, dr: 0.81, text: '***', star: 1.25},
             {g: 1, l: 0, r: 2, top: 1.145, dl: 1.04, dr: 0.64, text: '***', star: 1.235},
             {g: 2, l: 0, r: 2, top: 1.175, dl: 1.07, dr: 0.68, text: '***', star: 1.26}]}));

/* ---------- Panel E: micrographs ---------- */
const microX = [[149,395],[558,395],[966,396]];
const microY = [[2571,301],[2886,300],[3200.5,300]];
const microCells = [
 [340,192,4],[363,240,12],[450,237,12],[316,287,10],[348,292,8],[345,262,3],[420,284,4],[540,290,12],[216,296,3],[326,327,2],[523,377,8],[597,405,8],[344,441,5],[292,420,2],[574,473,12],[183,481,8],
 [733,349,12],[988,367,12],[760,403,12],[780,456,12],[797,492,10],[807,543,10],[973,444,9],[670,335,2],
 [1286,233,11],[1438,266,10],[1240,428,9],[1134,536,7],[1343,522,10],[1190,457,2],[1198,457,2],
 [195,750,7],[267,791,11],[475,760,8],[541,790,12],[544,828,11],[464,865,14],[595,1010,12],
 [717,735,16],[831,763,10],[940,812,14],[1012,770,14],[923,933,11],[656,1042,13],
 [1308,762,11],[1256,940,7],
 [243,1170,17],[471,1208,13],[401,1278,10],[316,1327,8],[538,1250,10],[174,1475,9],[292,1490,13],[357,1470,8],[444,1487,9],
 [906,1102,7],[899,1145,8],[903,1246,8],[1024,1241,7],[764,1288,8],[667,1415,4],[1018,1380,20],
 [1438,1332,8],[1104,1220,3],[1155,1142,3],[1390,1224,3],[1432,1168,2],[1207,1260,2],[1192,1360,2],[1455,1337,2],[1182,1393,2],[1460,1435,3],[1185,1505,2],[1325,1195,2]];
const eGroup = grp(root, 'micrograph-grid');
microY.forEach((ry, r) => microX.forEach((cx, c) => {
  const p = mk('rect', {x: cx[0], y: ry[0], width: cx[1], height: ry[1], fill: 'url(#m' + (r + 1) + (c + 1) + ')'}, eGroup);
  
  
}));
const cellGroup = grp(eGroup, 'cell-spheres');
microCells.forEach(a => {
  const faint = a[2] >= 17;
  const s = mk('circle', {cx: a[0] / 1.12, cy: 2440 + a[1] / 1.424, r: a[2] / 1.15, fill: faint ? 'rgba(170,135,115,0.14)' : 'rgba(170,135,115,0.28)', stroke: faint ? 'rgba(125,90,75,0.18)' : 'rgba(125,90,75,0.48)', 'stroke-width': 1.6}, cellGroup);
  
  
});
microY.forEach(ry => microX.forEach(cx => {
  const right = cx[0] + cx[1], bottom = ry[0] + ry[1];
  const sb = grp(eGroup, 'scale-bar');
  mk('rect', {x: right - 96, y: bottom - 10, width: 94, height: 5, fill: '#000'}, sb);
  label(sb, 'scale-bar-label', '200μm', right - 49, bottom - 18, 31, {'text-anchor': 'middle', 'font-family': '"Liberation Serif",serif', 'font-weight': 'bold', fill: '#000'});
}));

/* ---------- Panel F: blots ---------- */
const blotX = [[1680,298],[2030,297],[2374,298]];
const blotRows = [
 {name: 'klf4', y: 2912, h: 110, bg: '#f0f0f0'},
 {name: 'aldh1a1', y: 3068, h: 85, bg: '#f7f4f2'},
 {name: 'sox2', y: 3200, h: 84, bg: '#c6c6c6'},
 {name: 'gapdh', y: 3328, h: 77, bg: '#c9c9c9'}];
const blotBands = [
 [[397,630,40,17,1],[506,617,46,22,1],[615,617,40,12,.9],[792,626,42,24,1],[895,620,44,19,1],[1010,620,44,10,.7],[1170,610,48,17,1],[1285,604,42,24,1],[1385,608,38,8,.25]],
 [[408,850,45,12,.85],[505,843,38,10,.85],[605,842,46,16,1],[797,849,44,14,1],[899,847,42,14,1],[1002,847,38,13,1],[1177,855,44,12,1],[1280,853,38,12,1],[1380,851,38,10,.75]],
 [[403,1053,40,14,1],[505,1053,40,16,1],[608,1057,40,16,1],[800,1072,42,16,1],[905,1078,40,20,1],[1010,1082,38,10,.85],[1172,1072,38,18,1],[1280,1063,38,16,.95],[1382,1060,38,14,.45]],
 [[388,1290,42,14,.85],[500,1275,44,13,.95],[617,1275,44,14,.95],[785,1275,42,14,.9],[895,1275,44,14,.95],[1005,1275,44,17,1],[1172,1277,48,12,.9],[1280,1275,44,12,.95],[1390,1275,44,10,.85]]];
const fGroup = grp(root, 'western-blots');
blotRows.forEach((row, r) => {
  blotX.forEach((bx, c) => {
    const g = grp(fGroup, 'blot-' + row.name + '-' + timeLabels[c]);
    const cid = 'blot' + r + c;
    const cp = mk('clipPath', {id: cid}, g);
    mk('rect', {x: bx[0], y: row.y, width: bx[1], height: row.h}, cp);
    mk('rect', {x: bx[0], y: row.y, width: bx[1], height: row.h, fill: row.bg}, g);
    const inner = mk('g', {'clip-path': 'url(#' + cid + ')'}, g);
    if (r >= 2) {
      mk('ellipse', {cx: bx[0] + bx[1] / 2, cy: row.y + row.h * 0.5, rx: bx[1] * 0.45, ry: row.h * 0.32, fill: '#8f8f8f', opacity: 0.45, filter: 'url(#blurPatch)'}, inner);
    }
    blotBands[r].slice(c * 3, c * 3 + 3).forEach(b => {
      const band = mk('ellipse', {cx: b[0] / 1.12 + 1380, cy: b[1] / 1.666 + 2600, rx: b[2] / 1.12, ry: b[3] / 1.666 + 3, fill: '#000', opacity: b[4], filter: 'url(#blurBand)'}, inner);
      
      
    });
    mk('rect', {x: bx[0], y: row.y, width: bx[1], height: row.h, fill: 'none', stroke: '#111', 'stroke-width': 4}, g);
  });
});
</script>
</body>
</html>
